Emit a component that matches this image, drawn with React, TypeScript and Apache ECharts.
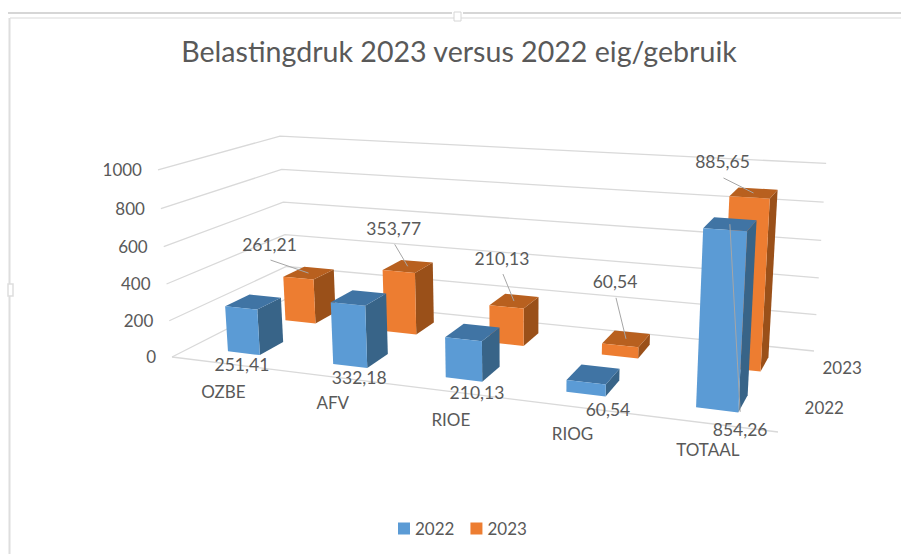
import React, { useEffect, useRef } from "react";
import * as echarts from "echarts";

const categories = ["OZBE", "AFV", "RIOE", "RIOG", "TOTAAL"];
const values2022 = [251.41, 332.18, 210.13, 60.54, 854.26];
const values2023 = [261.21, 353.77, 210.13, 60.54, 885.65];
const labels2022 = ["251,41", "332,18", "210,13", "60,54", "854,26"];
const labels2023 = ["261,21", "353,77", "210,13", "60,54", "885,65"];
const yTicks = [0, 200, 400, 600, 800, 1000];
const depthSeries = ["2022", "2023"];

const TXT = "#595959";
const FONT = "Lato, 'Open Sans', sans-serif";

// perspective model: floor quad + vertical vanishing point
const F0 = [172, 357], FR = [778, 432], BR = [814, 351], BL = [288, 298];
const VP = [516, 4947];
const K = -0.03915;
const dx1 = FR[0] - BR[0], dx2 = BL[0] - BR[0], sx = F0[0] - FR[0] + BR[0] - BL[0];
const dy1 = FR[1] - BR[1], dy2 = BL[1] - BR[1], sy = F0[1] - FR[1] + BR[1] - BL[1];
const det = dx1 * dy2 - dx2 * dy1;
const G = (sx * dy2 - dx2 * sy) / det, H = (dx1 * sy - sx * dy1) / det;
const A = FR[0] - F0[0] + G * FR[0], B = BL[0] - F0[0] + H * BL[0];
const D = FR[1] - F0[1] + G * FR[1], E = BL[1] - F0[1] + H * BL[1];
function proj(u: number, v: number, z: number): number[] {
  const w = G * u + H * v + 1 + K * z;
  return [(A * u + B * v + F0[0] + K * VP[0] * z) / w, (D * u + E * v + F0[1] + K * VP[1] * z) / w];
}

const BAR_U = 0.31, BAR_V = 0.4, U_SHIFT = 0.003;

// label offsets relative to the bars
const blueLabelOffset = [[-2, 11], [9, 12], [13, 13], [22, 15], [23, 20]];
const orangeLabelOffset = [[-39, -29], [-14, -38], [-12, -43], [-11, -57], [-31, -31]];
const catLabelOffset = [[0, 28], [1, 26], [3, 28], [0, 27], [1, 26]];

function norm(api: any, params: any, x: number, y: number) {
  const c = params.coordSys;
  const p = api.coord([x, y]);
  return [(p[0] - c.x) / c.width, (c.y + c.height - p[1]) / c.height];
}

function txt(text: string, x: number, y: number, size = 17, align = "center") {
  return { type: "text", x, y, silent: true, style: { text, fill: TXT, fontSize: size, fontFamily: FONT, align, verticalAlign: "middle" } };
}

function barRender(seriesIdx: number, colors: string[], labels: string[]) {
  return (params: any, api: any) => {
    const i = api.value(0);
    const [ucRaw, z] = norm(api, params, i, api.value(1));
    const uc = ucRaw + U_SHIFT;
    const uw = BAR_U / categories.length;
    const vw = BAR_V / depthSeries.length;
    const vc = (seriesIdx + 0.5) / depthSeries.length;
    const u0 = uc - uw / 2, u1 = uc + uw / 2, v0 = vc - vw / 2, v1 = vc + vw / 2;
    const a = proj(u0, v0, 0), b = proj(u1, v0, 0), c = proj(u1, v1, 0);
    const a2 = proj(u0, v0, z), b2 = proj(u1, v0, z), c2 = proj(u1, v1, z), d2 = proj(u0, v1, z);
    const children: any[] = [
      { type: "polygon", shape: { points: [b, c, c2, b2] }, style: { fill: colors[2] } },
      { type: "polygon", shape: { points: [a2, b2, c2, d2] }, style: { fill: colors[1] } },
      { type: "polygon", shape: { points: [a, b, b2, a2] }, style: { fill: colors[0] } },
    ];
    const topC = [(a2[0] + c2[0]) / 2, (a2[1] + c2[1]) / 2];
    if (seriesIdx === 1) {
      const o = orangeLabelOffset[i];
      const l = [topC[0] + o[0], topC[1] + o[1]];
      children.push({ type: "line", shape: { x1: l[0] + 1, y1: l[1] + 16, x2: topC[0], y2: topC[1] }, style: { stroke: "#A6A6A6", lineWidth: 1 } });
      children.push(txt(labels[i], l[0], l[1], 17.5));
    } else {
      const o = blueLabelOffset[i];
      const base = [(a[0] + b[0]) / 2, (a[1] + b[1]) / 2];
      const l = [base[0] + o[0], base[1] + o[1]];
      if (i === categories.length - 1) {
        children.push({ type: "line", shape: { x1: l[0], y1: l[1] - 18, x2: topC[0], y2: topC[1] }, style: { stroke: "#A6A6A6", lineWidth: 1 } });
      }
      children.push(txt(labels[i], l[0], l[1], 17.5));
    }
    return { type: "group", children };
  };
}

export default function App() {
  const ref = useRef<HTMLDivElement>(null);
  useEffect(() => {
    document.body.style.margin = "0";
    const chart = echarts.init(ref.current!, null, { renderer: "svg" });
    chart.setOption({
      animation: false,
      backgroundColor: "#fff",
      title: {
        text: "Belastingdruk 2023 versus 2022 eig/gebruik",
        left: 454, top: 31, textAlign: "center",
        textStyle: { color: TXT, fontSize: 28.6, fontWeight: "normal", fontFamily: FONT },
      },
      legend: {
        data: ["2022", "2023"], left: 393, top: 515, itemWidth: 12, itemHeight: 12, itemGap: 16,
        icon: "rect", selectedMode: false,
        textStyle: { color: TXT, fontSize: 17, fontFamily: FONT },
      },
      grid: { left: 0, top: 0, width: 900, height: 550, containLabel: false },
      xAxis: { type: "category", data: categories, show: false },
      yAxis: { type: "value", min: 0, max: 1000, interval: 200, show: false },
      graphic: [
        { type: "line", shape: { x1: 8, y1: 13, x2: 452, y2: 13 }, style: { stroke: "#ADADAD", lineWidth: 1 } },
        { type: "line", shape: { x1: 463, y1: 13, x2: 901, y2: 13 }, style: { stroke: "#ADADAD", lineWidth: 1 } },
        { type: "line", shape: { x1: 10, y1: 18, x2: 901, y2: 18 }, style: { stroke: "#E6E6E6", lineWidth: 1.5 } },
        { type: "line", shape: { x1: 9.5, y1: 18, x2: 9.5, y2: 554 }, style: { stroke: "#DEDEDE", lineWidth: 2 } },
        { type: "rect", shape: { x: 454, y: 12, width: 7, height: 9 }, style: { fill: "#fff", stroke: "#D6D6D6", lineWidth: 1 } },
        { type: "rect", shape: { x: 8, y: 284, width: 5, height: 12 }, style: { fill: "#fff", stroke: "#DEDEDE", lineWidth: 1.5 } },
      ],
      series: [
        {
          type: "custom", name: "grid", coordinateSystem: "cartesian2d", z: 1, silent: true,
          data: yTicks.map((t) => [0, t]),
          renderItem: (params: any, api: any) => {
            const [, z] = norm(api, params, 0, api.value(1));
            const a = proj(0, 0, z), b = proj(0, 1, z), c = proj(1, 1, z);
            const children: any[] = [
              { type: "polyline", shape: { points: [a, b, c] }, style: { stroke: "#D9D9D9", lineWidth: 1.3, fill: "none" } },
              txt(String(api.value(1)), a[0] - 16, a[1] - 0.5, 17, "right"),
            ];
            if (api.value(1) === 0) {
              children.push({ type: "line", shape: { x1: a[0], y1: a[1], x2: proj(1, 0, 0)[0], y2: proj(1, 0, 0)[1] }, style: { stroke: "#D9D9D9", lineWidth: 1.3 } });
              depthSeries.forEach((s, k) => {
                const p = proj(1, (k + 0.5) / depthSeries.length, 0);
                children.push(txt(s, p[0] + 36, p[1] - 1));
              });
            }
            return { type: "group", children };
          },
        },
        {
          type: "custom", name: "2023", coordinateSystem: "cartesian2d", z: 2, silent: true,
          itemStyle: { color: "#ED7D31" },
          data: values2023.map((v, i) => [i, v]),
          encode: { x: 0, y: 1 },
          renderItem: barRender(1, ["#ED7D31", "#B8601F", "#9A5019"], labels2023),
        },
        {
          type: "custom", name: "2022", coordinateSystem: "cartesian2d", z: 3, silent: true,
          itemStyle: { color: "#5B9BD5" },
          data: values2022.map((v, i) => [i, v]),
          encode: { x: 0, y: 1 },
          renderItem: barRender(0, ["#5B9BD5", "#4074A4", "#386488"], labels2022),
        },
        {
          type: "custom", name: "categories", coordinateSystem: "cartesian2d", z: 4, silent: true,
          data: categories.map((_, i) => [i, 0]),
          renderItem: (params: any, api: any) => {
            const i = api.value(0);
            const [u] = norm(api, params, i, 0);
            const p = proj(u, 0, 0);
            return txt(categories[i], p[0] + catLabelOffset[i][0], p[1] + catLabelOffset[i][1]);
          },
        },
      ],
    });
    return () => chart.dispose();
  }, []);
  return <div ref={ref} style={{ width: 901, height: 554 }} />;
}
